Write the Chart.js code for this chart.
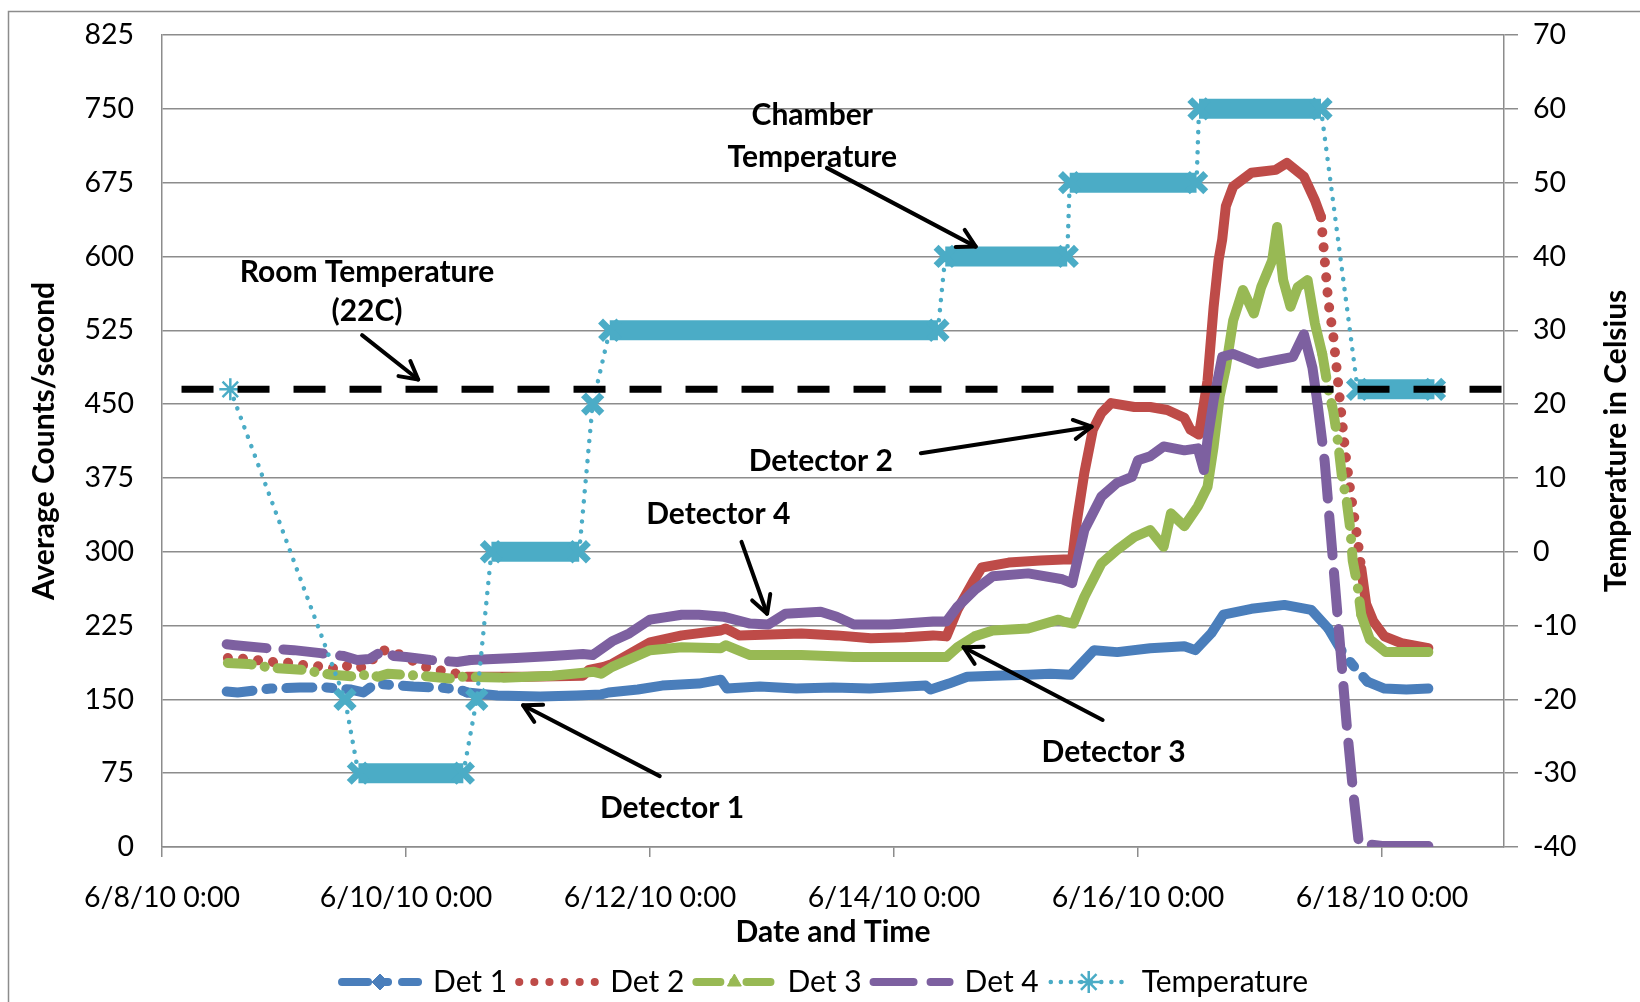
<!DOCTYPE html>
<html>
<head>
<meta charset="utf-8">
<title>Detector counts vs chamber temperature</title>
<script src="https://cdn.jsdelivr.net/npm/chart.js@4.4.1/dist/chart.umd.min.js"></script>
<style>
  html, body { margin: 0; padding: 0; background: #fff; }
  canvas { display: block; }
</style>
</head>
<body>
<canvas id="chart" width="1640" height="1002"></canvas>
<script>
// x values are days after 6/8/10 0:00
const det1Days = [0.53,0.62,0.89,1.13,1.35,1.55,1.65,1.75,2.06,2.28,2.44,2.5,2.75,3.1,3.4,3.6,3.66,3.9,4.1,4.4,4.58,4.63,4.9,5.2,5.5,5.8,6.1,6.26,6.3,6.45,6.6,6.82,7.1,7.28,7.45,7.64,7.83,8.1,8.38,8.47,8.6,8.7,8.93,9.2,9.42,9.56,9.69,9.88,10.02,10.2,10.38];
const det1Counts = [158,157,161,162,162,160,157,166,163,162,160,157,154,153,154,155,157,160,164,166,170,161,163,161,162,161,163,164,160,166,173,174,175,176,175,200,198,202,204,200,217,236,242,246,241,222,195,168,161,160,161];

const det2Days = [0.54,0.7,0.9,1.05,1.15,1.25,1.35,1.45,1.55,1.65,1.81,1.9,2.0,2.1,2.2,2.36,2.5,3.0,3.45,3.5,3.62,3.69,4.0,4.26,4.58,4.62,4.73,5.24,5.53,5.81,6.09,6.32,6.43,6.52,6.66,6.72,6.94,7.2,7.39,7.46,7.5,7.56,7.63,7.7,7.78,7.97,8.1,8.24,8.38,8.43,8.5,8.57,8.62,8.66,8.69,8.72,8.78,8.93,9.13,9.22,9.36,9.45,9.5,9.56,9.6,9.65,9.7,9.74,9.78,9.8,9.83,9.87,9.93,10.02,10.16,10.38];
const det2Counts = [192,191,188,187,185,184,183,180,186,182,200,198,193,186,181,178,173,173,174,180,183,186,208,215,220,222,215,217,215,212,213,215,214,241,272,284,289,291,292,292,332,380,424,441,451,447,447,444,436,424,419,474,549,596,617,651,671,685,688,695,681,657,640,554,520,460,400,362,329,312,283,247,229,214,207,202];

const det3Days = [0.54,0.71,0.9,1.15,1.39,1.5,1.6,1.7,1.77,1.85,2.11,2.38,2.44,2.8,3.2,3.54,3.6,3.69,4.0,4.26,4.58,4.62,4.82,5.24,5.67,6.09,6.43,6.52,6.66,6.81,7.1,7.35,7.39,7.47,7.56,7.7,7.83,7.97,8.1,8.21,8.27,8.38,8.49,8.57,8.62,8.67,8.72,8.78,8.86,8.95,9.01,9.1,9.14,9.19,9.25,9.31,9.39,9.45,9.51,9.56,9.6,9.64,9.67,9.71,9.74,9.76,9.8,9.83,9.9,10.03,10.2,10.38];
const det3Counts = [187,186,182,180,175,174,173,176,173,176,174,171,173,172,174,178,176,183,200,203,202,205,195,195,193,193,193,203,214,220,222,231,229,227,254,288,302,315,322,305,339,326,346,366,407,458,487,535,566,542,569,596,630,576,549,569,576,532,501,465,443,411,378,352,323,291,265,236,211,198,198,198];

const det4Days = [0.53,0.6,0.86,1.08,1.3,1.49,1.6,1.7,1.82,1.9,2.0,2.2,2.42,2.53,2.9,3.2,3.45,3.53,3.69,3.83,4.0,4.26,4.4,4.6,4.82,4.97,5.11,5.4,5.53,5.67,5.96,6.09,6.32,6.43,6.52,6.66,6.81,7.1,7.38,7.46,7.56,7.7,7.83,7.95,8.0,8.1,8.21,8.38,8.49,8.54,8.57,8.62,8.69,8.78,8.98,9.27,9.36,9.43,9.47,9.53,9.59,9.65,9.71,9.76,9.81,10.0,10.38];
const det4Counts = [206,205,202,200,197,194,190,191,200,194,193,190,188,190,192,194,196,195,209,217,231,236,236,234,227,226,237,239,234,226,226,227,229,229,244,261,275,278,272,268,322,356,370,376,393,397,407,403,405,383,414,454,498,501,491,498,521,487,452,392,303,214,125,60,4,1,1];

const tempDays = [0.56,1.5,1.61,2.47,2.58,2.7,3.42,3.53,3.67,6.36,6.42,7.42,7.44,8.48,8.5,9.5,9.8,10.43];
const tempCelsius = [22,-20,-30,-30,-20,0,0,20,30,30,40,40,50,50,60,60,22,22];

const roomDays = [0.16, 11];
const roomCelsius = [22, 22];

const xTickDays = [0, 2, 4, 6, 8, 10];
const xTickLabels = ['6/8/10 0:00', '6/10/10 0:00', '6/12/10 0:00', '6/14/10 0:00', '6/16/10 0:00', '6/18/10 0:00'];

// callout texts and arrows, in (day, counts) coordinates
const noteTexts = ['Room Temperature', '(22C)', 'Chamber', 'Temperature', 'Detector 2', 'Detector 4', 'Detector 3', 'Detector 1'];
const noteAt = [[1.68, 584], [1.68, 544], [5.33, 743], [5.33, 701], [5.40, 392], [4.56, 338], [7.80, 96], [4.18, 39]];
const arrows = [[1.64, 520, 2.10, 475], [5.45, 690, 6.67, 610], [6.22, 400, 7.62, 427], [4.75, 310, 4.96, 237], [7.71, 129, 6.57, 203], [4.08, 72, 2.96, 144]];

const FONT = 'Lato';
const GRID = '#8c8c8c';
const TEAL = '#4bacc6';
const TICK_FONT = { size: 28.5 };
const BOLD_FONT = { size: 30, weight: 'bold' };

// stretches where the logger recorded few points (line pattern shows there)
const sparse = [[-1, 2.45], [9.46, 9.82]];
const isSparse = (c) => sparse.some(([a, b]) => c.p0.parsed.x >= a && c.p0.parsed.x < b);

const toPoints = (xs, ys) => xs.map((x, i) => ({ x, y: ys[i] }));

function detector(label, days, counts, color, dash, order) {
  return {
    label, order,
    data: toPoints(days, counts),
    yAxisID: 'y',
    borderColor: color,
    backgroundColor: color,
    borderWidth: 10,
    borderCapStyle: 'round',
    borderJoinStyle: 'round',
    pointRadius: 0,
    tension: 0,
    legendDash: dash,
    segment: { borderDash: (c) => isSparse(c) ? dash : [] }
  };
}

const flat = (c) => c.p0.parsed.y === c.p1.parsed.y;

const datasets = [
  detector('Det 1', det1Days, det1Counts, '#4a7ebb', [26, 14, 6, 14], 5),
  detector('Det 2', det2Days, det2Counts, '#be4b48', [0.1, 15], 4),
  detector('Det 3', det3Days, det3Counts, '#98b954', [24, 13, 0.1, 13], 3),
  detector('Det 4', det4Days, det4Counts, '#7d60a0', [40, 17], 2),
  {
    label: 'Temperature', order: 1,
    data: toPoints(tempDays, tempCelsius),
    yAxisID: 'y1',
    borderColor: TEAL,
    backgroundColor: TEAL,
    borderWidth: 4.5,
    borderCapStyle: 'round',
    legendDash: [0.1, 10],
    pointStyle: (c) => c.dataIndex === 0 ? 'star' : 'crossRot',
    pointRadius: (c) => c.dataIndex === 0 ? 11 : 13,
    pointBorderWidth: (c) => c.dataIndex === 0 ? 2.5 : 7,
    pointBorderColor: TEAL,
    tension: 0,
    segment: {
      borderWidth: (c) => flat(c) ? 20 : 4.5,
      borderDash: (c) => flat(c) ? [] : [0.1, 10],
      borderCapStyle: (c) => flat(c) ? 'butt' : 'round'
    }
  },
  {
    label: 'Room temperature', order: 0,
    data: toPoints(roomDays, roomCelsius),
    yAxisID: 'y1',
    borderColor: '#000',
    borderWidth: 7,
    borderDash: [32, 24],
    pointRadius: 0,
    hideInLegend: true
  }
];

const legendMarks = { 'Det 1': 'rectRot', 'Det 3': 'triangle', 'Temperature': 'star' };

const chartExtras = {
  id: 'chartExtras',
  beforeDraw(chart) {
    const ctx = chart.ctx;
    ctx.save();
    ctx.strokeStyle = GRID;
    ctx.lineWidth = 1.5;
    ctx.strokeRect(8.5, 11.5, chart.width + 20, chart.height + 20);
    ctx.restore();
  },
  afterDatasetsDraw(chart) {
    const { ctx, scales: { x, y } } = chart;
    ctx.save();
    ctx.strokeStyle = '#000';
    ctx.lineWidth = 4;
    ctx.lineCap = 'round';
    ctx.lineJoin = 'round';
    arrows.forEach(([d0, v0, d1, v1]) => {
      const x0 = x.getPixelForValue(d0), y0 = y.getPixelForValue(v0);
      const x1 = x.getPixelForValue(d1), y1 = y.getPixelForValue(v1);
      const a = Math.atan2(y1 - y0, x1 - x0), h = 20;
      ctx.beginPath();
      ctx.moveTo(x0, y0);
      ctx.lineTo(x1, y1);
      ctx.stroke();
      ctx.beginPath();
      ctx.moveTo(x1 - h * Math.cos(a - 0.5), y1 - h * Math.sin(a - 0.5));
      ctx.lineTo(x1, y1);
      ctx.lineTo(x1 - h * Math.cos(a + 0.5), y1 - h * Math.sin(a + 0.5));
      ctx.stroke();
    });
    ctx.fillStyle = '#000';
    ctx.font = `bold ${BOLD_FONT.size}px ${FONT}`;
    ctx.textAlign = 'center';
    ctx.textBaseline = 'middle';
    noteTexts.forEach((t, i) => {
      ctx.fillText(t, x.getPixelForValue(noteAt[i][0]), y.getPixelForValue(noteAt[i][1]));
    });
    ctx.restore();
  },
  afterDraw(chart) {
    const { ctx, chartArea, scales: { y1 }, legend } = chart;
    ctx.save();
    ctx.fillStyle = '#000';
    ctx.font = `bold ${BOLD_FONT.size}px ${FONT}`;
    ctx.textAlign = 'center';
    ctx.textBaseline = 'middle';
    ctx.translate(y1.right - 24, (chartArea.top + chartArea.bottom) / 2);
    ctx.rotate(-Math.PI / 2);
    ctx.fillText('Temperature in Celsius', 0, 0);
    ctx.restore();
    // markers on the legend samples
    legend.legendItems.forEach((item, i) => {
      const style = legendMarks[item.text];
      const hb = legend.legendHitBoxes[i];
      if (!style || !hb) return;
      ctx.save();
      ctx.fillStyle = item.strokeStyle;
      ctx.strokeStyle = item.strokeStyle;
      ctx.lineWidth = style === 'star' ? 2.5 : 1;
      Chart.helpers.drawPoint(ctx, { pointStyle: style, radius: style === 'star' ? 11 : 8, rotation: 0, borderWidth: ctx.lineWidth },
        hb.left + 38, hb.top + hb.height / 2);
      ctx.restore();
    });
  }
};

Chart.defaults.font.family = FONT;
Chart.defaults.color = '#000';

new Chart(document.getElementById('chart'), {
  type: 'line',
  data: { datasets },
  plugins: [chartExtras],
  options: {
    responsive: false,
    animation: false,
    layout: { padding: { left: 10, right: 0, top: 35, bottom: -5 } },
    plugins: {
      tooltip: { enabled: false },
      legend: {
        position: 'bottom',
        labels: {
          font: { size: 30 },
          usePointStyle: true,
          pointStyleWidth: 76,
          boxHeight: 10,
          padding: 12,
          generateLabels: (chart) => chart.data.datasets
            .map((ds, i) => ({
              text: ds.label,
              datasetIndex: i,
              hidden: false,
              fillStyle: ds.borderColor,
              strokeStyle: ds.borderColor,
              fontColor: '#000',
              lineWidth: ds.label === 'Temperature' ? 4.5 : 8,
              lineDash: ds.legendDash,
              lineCap: 'round',
              pointStyle: 'line',
              hideInLegend: ds.hideInLegend
            }))
            .filter((item) => !item.hideInLegend)
        }
      }
    },
    scales: {
      x: {
        type: 'linear',
        min: 0,
        max: 11,
        grid: { drawOnChartArea: false, tickLength: 10, color: GRID, lineWidth: 1.5 },
        border: { color: GRID, width: 1.5 },
        ticks: {
          stepSize: 2,
          includeBounds: false,
          maxRotation: 0,
          autoSkip: false,
          padding: 24,
          font: TICK_FONT,
          callback: (v) => {
            const i = xTickDays.indexOf(v);
            return i >= 0 ? xTickLabels[i] : '';
          }
        },
        title: { display: true, text: 'Date and Time', font: BOLD_FONT, padding: { top: 0, bottom: 5 } },
        afterFit: (s) => { s.height = 108; }
      },
      y: {
        position: 'left',
        min: 0,
        max: 825,
        // invisible tick marks keep the labels away from the axis
        grid: { color: GRID, lineWidth: 1.5, drawTicks: true, tickLength: 24, tickColor: 'rgba(0,0,0,0)' },
        border: { color: GRID, width: 1.5 },
        ticks: { stepSize: 75, padding: 4, font: TICK_FONT },
        title: { display: true, text: 'Average Counts/second', font: BOLD_FONT, padding: { top: 16, bottom: 0 } },
        afterFit: (s) => { s.width = 152; }
      },
      y1: {
        position: 'right',
        min: -40,
        max: 70,
        grid: { drawOnChartArea: false, tickLength: 14, color: GRID, lineWidth: 1.5 },
        border: { color: GRID, width: 1.5 },
        ticks: { stepSize: 10, padding: 15, font: TICK_FONT },
        afterFit: (s) => { s.width = 136; }
      }
    }
  }
});
</script>
</body>
</html>
